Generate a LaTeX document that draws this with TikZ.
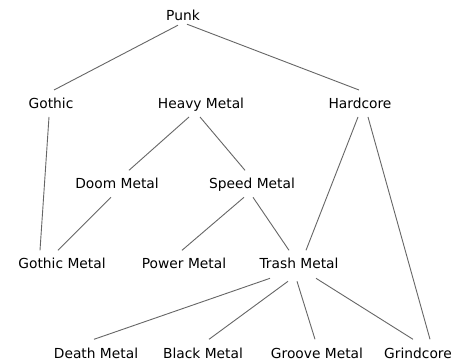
\documentclass[tikz,border=0pt]{standalone}
\usepackage{fontspec}
\setmainfont{DejaVu Sans}
\usetikzlibrary{calc}
\begin{document}
\begin{tikzpicture}[x=1pt,y=-1pt,
  lbl/.style={anchor=base,inner sep=0pt,text=black,font=\fontsize{13.8}{16}\selectfont},
  edge/.style={draw=black!60,line width=0.9pt}]
\useasboundingbox[fill=white] (0,0) rectangle (460,363);
\node[lbl] (punk) at (183,20.7) {Punk};
\node[lbl] (gothic) at (51,109) {Gothic};
\node[lbl] (heavy) at (201,109) {Heavy Metal};
\node[lbl] (hardcore) at (360,109) {Hardcore};
\node[lbl] (doom) at (117,188.3) {Doom Metal};
\node[lbl] (speed) at (252,188.3) {Speed Metal};
\node[lbl] (gmetal) at (62,268.3) {Gothic Metal};
\node[lbl] (power) at (184,268.3) {Power Metal};
\node[lbl] (trash) at (299,268.3) {Trash Metal};
\node[lbl] (death) at (96,358.3) {Death Metal};
\node[lbl] (black) at (203,358.3) {Black Metal};
\node[lbl] (groove) at (317,358.3) {Groove Metal};
\node[lbl] (grind) at (418,358.3) {Grindcore};
\draw[edge] ($(punk.base)+(-5,4.5)$) -- ($(gothic.base)+(3,-19)$);
\draw[edge] ($(punk.base)+(4,3.5)$) -- ($(hardcore.base)+(-1,-19)$);
\draw[edge] ($(gothic.base)+(-2,8)$) -- ($(gmetal.base)+(-22,-18)$);
\draw[edge] ($(heavy.base)+(-12,8)$) -- ($(doom.base)+(12,-18)$);
\draw[edge] ($(heavy.base)+(-1,8)$) -- ($(speed.base)+(-7,-18)$);
\draw[edge] ($(doom.base)+(-6,9)$) -- ($(gmetal.base)+(-4,-18)$);
\draw[edge] ($(speed.base)+(-8,9)$) -- ($(power.base)+(-2,-18)$);
\draw[edge] ($(speed.base)+(1,9)$) -- ($(trash.base)+(-10,-18)$);
\draw[edge] ($(hardcore.base)+(-2,8)$) -- ($(trash.base)+(7,-18)$);
\draw[edge] ($(hardcore.base)+(8,8)$) -- ($(grind.base)+(12,-19)$);
\draw[edge] ($(trash.base)+(-29,10)$) -- ($(death.base)+(-2,-19)$);
\draw[edge] ($(trash.base)+(-11,13)$) -- ($(black.base)+(6,-19)$);
\draw[edge] ($(trash.base)+(-2,13)$) -- ($(groove.base)+(-2,-19)$);
\draw[edge] ($(trash.base)+(17,10)$) -- ($(grind.base)+(-5,-19)$);
\end{tikzpicture}
\end{document}
